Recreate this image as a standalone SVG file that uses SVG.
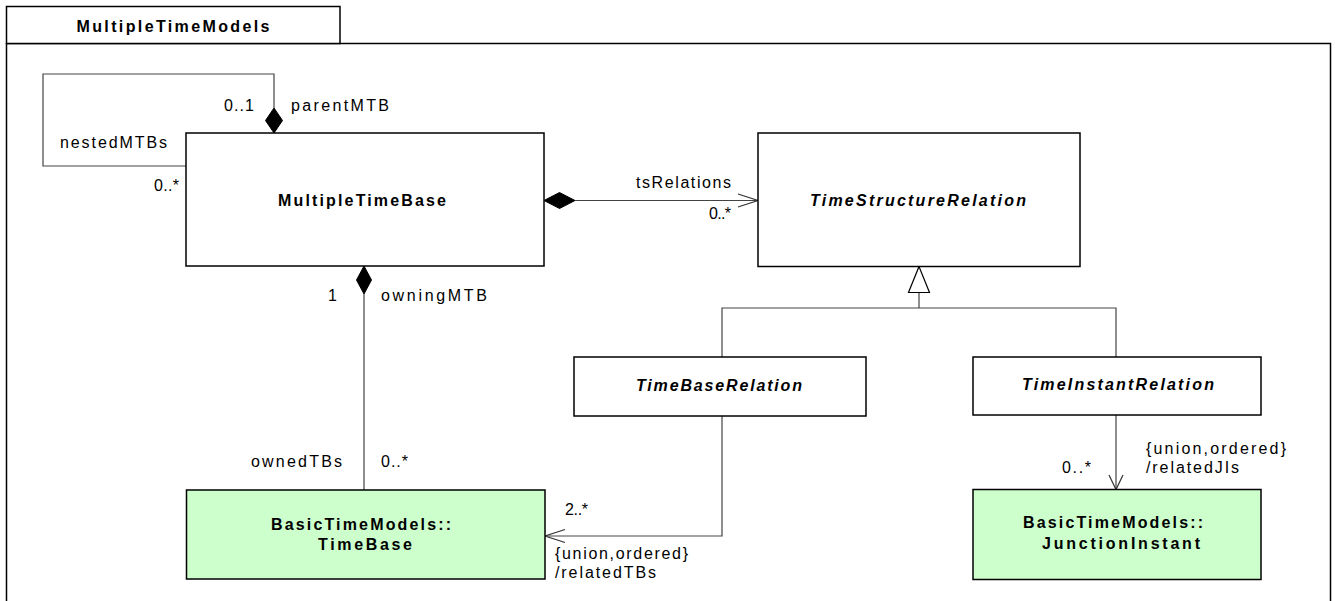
<svg xmlns="http://www.w3.org/2000/svg" width="1335" height="601" viewBox="0 0 1335 601">
<style>
.frame{fill:#fff;stroke:#000;stroke-width:1.5}
.box{fill:#fff;stroke:#000;stroke-width:1.5}
.ext{fill:#ccffcc;stroke:#000;stroke-width:1.5}
.con{fill:none;stroke:#444;stroke-width:1.2}
.dia{fill:#000;stroke:#000;stroke-width:1}
.tri{fill:#fff;stroke:#000;stroke-width:1.2}
.arr{fill:none;stroke:#333;stroke-width:1.2}
text{font-family:"Liberation Sans",Arial,sans-serif;font-size:16px;fill:#000}
.b{font-weight:bold}
.bi{font-weight:bold;font-style:italic}
.m{text-anchor:middle}
</style>
<rect width="1335" height="601" fill="#fff"/>
<g id="frame">
<rect class="frame" x="6.5" y="43.5" width="1324" height="580"/>
<rect class="frame" x="6.5" y="6.5" width="333.5" height="37"/>
<text class="b m" x="173" y="32" textLength="193" lengthAdjust="spacing">MultipleTimeModels</text>
</g>
<g id="connectors">
<path class="con" d="M274,108 V74 H43 V166 H186"/>
<polygon class="dia" points="274,133 282.5,120.5 274,108 265.5,120.5"/>
<path class="con" d="M575,200.5 H758"/>
<polygon class="dia" points="544,200.5 559.5,192.5 575,200.5 559.5,208.5"/>
<path class="arr" d="M738,194 L758,200.5 L738,207"/>
<path class="con" d="M364,294 V490"/>
<polygon class="dia" points="364,266 371.5,280 364,294 356.5,280"/>
<path class="con" d="M919,292.5 V308 M722,357 V308 H1116 V357"/>
<polygon class="tri" points="919,266.5 908.5,292.5 929.5,292.5"/>
<path class="con" d="M722,416 V536 H545"/>
<path class="arr" d="M565,529.5 L545,536 L565,542.5"/>
<path class="con" d="M1116,415 V489.5"/>
<path class="arr" d="M1109,475 L1116,489.5 L1123,475"/>
<text x="224" y="111" textLength="30" lengthAdjust="spacing">0..1</text>
<text x="291" y="111" textLength="98" lengthAdjust="spacing">parentMTB</text>
<text x="60" y="148" textLength="107" lengthAdjust="spacing">nestedMTBs</text>
<text x="154" y="191" textLength="25" lengthAdjust="spacing">0..*</text>
<text x="636" y="188" textLength="95" lengthAdjust="spacing">tsRelations</text>
<text x="709" y="219" textLength="22" lengthAdjust="spacing">0..*</text>
<text x="328" y="301">1</text>
<text x="381" y="301" textLength="106" lengthAdjust="spacing">owningMTB</text>
<text x="251" y="467" textLength="91" lengthAdjust="spacing">ownedTBs</text>
<text x="381" y="467" textLength="27" lengthAdjust="spacing">0..*</text>
<text x="565" y="515" textLength="23" lengthAdjust="spacing">2..*</text>
<text x="555" y="559" textLength="133" lengthAdjust="spacing">{union,ordered}</text>
<text x="555" y="578" textLength="101" lengthAdjust="spacing">/relatedTBs</text>
<text x="1062" y="473" textLength="29" lengthAdjust="spacing">0..*</text>
<text x="1146" y="454" textLength="140" lengthAdjust="spacing">{union,ordered}</text>
<text x="1146" y="473" textLength="93" lengthAdjust="spacing">/relatedJIs</text>
</g>
<g id="MultipleTimeBase">
<rect class="box" x="186" y="133" width="358" height="133"/>
<text class="b m" x="362" y="206" textLength="168" lengthAdjust="spacing">MultipleTimeBase</text>
</g>
<g id="TimeStructureRelation">
<rect class="box" x="758" y="133" width="322" height="133.5"/>
<text class="bi m" x="918" y="206" textLength="216" lengthAdjust="spacing">TimeStructureRelation</text>
</g>
<g id="TimeBaseRelation">
<rect class="box" x="574" y="357" width="292" height="59"/>
<text class="bi m" x="719" y="391" textLength="166" lengthAdjust="spacing">TimeBaseRelation</text>
</g>
<g id="TimeInstantRelation">
<rect class="box" x="973" y="357" width="288" height="58"/>
<text class="bi m" x="1118" y="390" textLength="192" lengthAdjust="spacing">TimeInstantRelation</text>
</g>
<g id="TimeBase">
<rect class="ext" x="186.5" y="490" width="358.5" height="89"/>
<text class="b m" x="361" y="530" textLength="180" lengthAdjust="spacing">BasicTimeModels::</text>
<text class="b m" x="365" y="550" textLength="94" lengthAdjust="spacing">TimeBase</text>
</g>
<g id="JunctionInstant">
<rect class="ext" x="973" y="489.5" width="288" height="90"/>
<text class="b m" x="1113" y="528" textLength="180" lengthAdjust="spacing">BasicTimeModels::</text>
<text class="b m" x="1121" y="549" textLength="158" lengthAdjust="spacing">JunctionInstant</text>
</g>
</svg>
